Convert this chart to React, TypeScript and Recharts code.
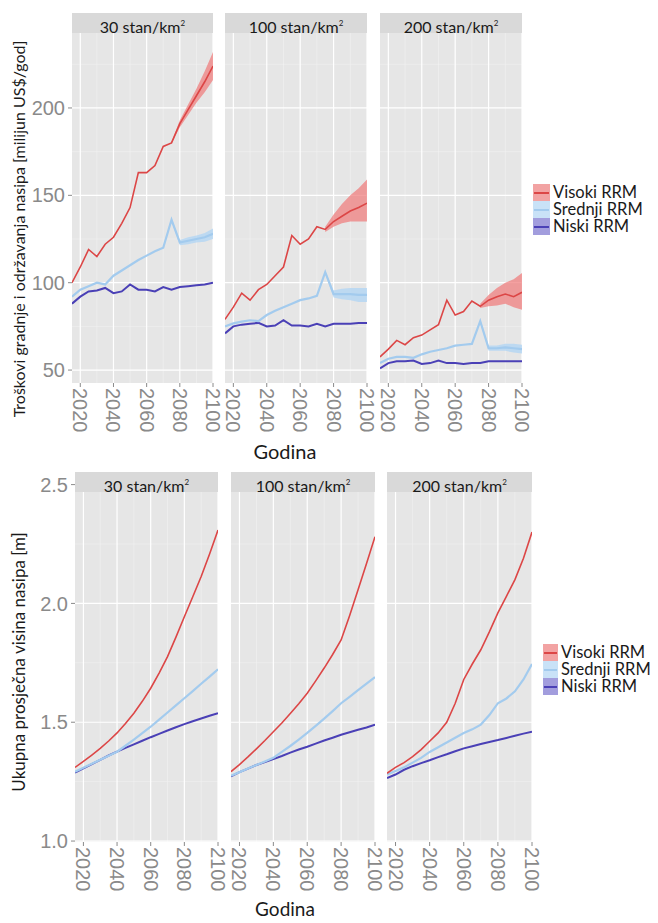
import React from "react";
import { ComposedChart, Line, Area, XAxis, YAxis, CartesianGrid } from "recharts";

const YEARS = [2015, 2020, 2025, 2030, 2035, 2040, 2045, 2050, 2055, 2060, 2065, 2070, 2075, 2080, 2085, 2090, 2095, 2100];
const BAND_YEARS = [2075, 2080, 2085, 2090, 2095, 2100];
const YEAR_TICKS = [2020, 2040, 2060, 2080, 2100];
const YEAR_MINOR = [2030, 2050, 2070, 2090];

const DENSITIES = ["30", "100", "200"];
const SERIES_NAMES = ["Visoki RRM", "Srednji RRM", "Niski RRM"];

// troškovi gradnje i održavanja, milijun US$/god
const COST_VISOKI_30 = [100, 109, 119, 115, 122, 126, 134, 143, 163, 163, 167, 178, 180, 191, 199, 207, 215, 224];
const COST_SREDNJI_30 = [92, 96, 98, 100, 99, 104, 107, 110, 113, 115.5, 118, 120, 136, 123, 124, 125, 126, 128];
const COST_NISKI_30 = [88, 92, 95, 95.5, 97, 94, 95, 99, 96, 96, 95, 97.5, 96, 97.5, 98, 98.5, 99, 100];
const COST_VISOKI_30_LO = [179.5, 189, 196, 203, 209, 216];
const COST_VISOKI_30_HI = [180.5, 193, 202, 211, 221, 232];
const COST_SREDNJI_30_LO = [135, 121.5, 122, 123, 123.5, 125];
const COST_SREDNJI_30_HI = [137, 124.5, 126, 127, 128.5, 131];

const COST_VISOKI_100 = [79, 86, 94, 90, 96, 99, 104, 109, 127, 122, 125, 132, 130.5, 135, 138, 141, 143, 145.5];
const COST_SREDNJI_100 = [75, 76.7, 77.7, 78.5, 78, 81.5, 84, 86, 88, 90, 91, 92.5, 106, 93.5, 93.5, 93.5, 93, 93];
const COST_NISKI_100 = [71, 75, 76, 76.5, 77, 75, 75.5, 78.5, 75.5, 75.5, 75, 76.5, 75, 76.5, 76.5, 76.5, 77, 77];
const COST_VISOKI_100_LO = [129, 132, 134, 135, 135, 135];
const COST_VISOKI_100_HI = [132, 139, 145, 150, 154, 159];
const COST_SREDNJI_100_LO = [105, 91.5, 90.5, 90, 89, 89];
const COST_SREDNJI_100_HI = [107, 95.5, 96.5, 97, 97, 97];

const COST_VISOKI_200 = [57.5, 62, 67, 64.5, 68.5, 70, 73, 76, 90, 81.5, 83.5, 89.5, 86.5, 90, 92, 93.5, 92, 94.5];
const COST_SREDNJI_200 = [54, 56.5, 57.5, 57.5, 57, 59, 60.5, 61.5, 62.5, 64, 64.5, 65, 78, 62.5, 62.5, 63, 62.5, 62];
const COST_NISKI_200 = [51, 54, 55, 55, 55.5, 53.5, 54, 55.5, 54, 54, 53.5, 54, 54, 55, 55, 55, 55, 55];
const COST_VISOKI_200_LO = [85.5, 86.5, 87, 88, 86, 84.5];
const COST_VISOKI_200_HI = [88, 93, 97, 100, 102, 105.5];
const COST_SREDNJI_200_LO = [77, 61, 61, 61, 60, 59.5];
const COST_SREDNJI_200_HI = [79, 64, 64, 65, 65, 64.5];

// ukupna prosječna visina nasipa, m
const HEIGHT_VISOKI_30 = [1.31, 1.335, 1.362, 1.39, 1.421, 1.455, 1.495, 1.538, 1.588, 1.643, 1.707, 1.776, 1.858, 1.944, 2.028, 2.113, 2.208, 2.309];
const HEIGHT_SREDNJI_30 = [1.292, 1.308, 1.325, 1.342, 1.359, 1.376, 1.401, 1.427, 1.454, 1.481, 1.511, 1.541, 1.571, 1.601, 1.631, 1.662, 1.692, 1.723];
const HEIGHT_NISKI_30 = [1.288, 1.306, 1.324, 1.342, 1.36, 1.376, 1.392, 1.407, 1.422, 1.437, 1.451, 1.465, 1.479, 1.492, 1.504, 1.516, 1.527, 1.538];

const HEIGHT_VISOKI_100 = [1.292, 1.322, 1.354, 1.388, 1.423, 1.46, 1.497, 1.537, 1.578, 1.622, 1.674, 1.728, 1.785, 1.846, 1.948, 2.057, 2.168, 2.281];
const HEIGHT_SREDNJI_100 = [1.275, 1.29, 1.305, 1.32, 1.335, 1.35, 1.375, 1.4, 1.427, 1.455, 1.485, 1.515, 1.547, 1.58, 1.607, 1.635, 1.662, 1.69];
const HEIGHT_NISKI_100 = [1.272, 1.29, 1.305, 1.32, 1.332, 1.345, 1.358, 1.372, 1.385, 1.397, 1.41, 1.423, 1.435, 1.447, 1.458, 1.468, 1.478, 1.49];

const HEIGHT_VISOKI_200 = [1.285, 1.31, 1.33, 1.355, 1.385, 1.42, 1.455, 1.5, 1.58, 1.68, 1.745, 1.805, 1.88, 1.96, 2.03, 2.1, 2.19, 2.3];
const HEIGHT_SREDNJI_200 = [1.28, 1.295, 1.31, 1.33, 1.35, 1.375, 1.395, 1.415, 1.435, 1.455, 1.47, 1.49, 1.53, 1.58, 1.6, 1.63, 1.68, 1.745];
const HEIGHT_NISKI_200 = [1.265, 1.28, 1.3, 1.315, 1.328, 1.34, 1.353, 1.365, 1.378, 1.39, 1.399, 1.408, 1.417, 1.425, 1.434, 1.443, 1.452, 1.46];

const COLORS = {
  visoki: { line: "#DC4646", band: "#EF7777", key: "#F2A3A3" },
  srednji: { line: "#A3CBEE", band: "#B3D6F4", key: "#C9E2F7" },
  niski: { line: "#4A40B6", band: "#7C75D2", key: "#A29DDD" },
};

const SANS = "Lato, 'Open Sans', sans-serif";
const TICK_FONT = "'Liberation Sans', Arial, sans-serif";
const TICK_GREY = "#8A8A8A";

type Row = {
  year: number;
  visoki: number;
  srednji: number;
  niski: number;
  visokiBand: [number, number] | null;
  srednjiBand: [number, number] | null;
};

function buildRows(
  visoki: number[],
  srednji: number[],
  niski: number[],
  vLo?: number[],
  vHi?: number[],
  sLo?: number[],
  sHi?: number[],
): Row[] {
  return YEARS.map((year, i) => {
    const b = BAND_YEARS.indexOf(year);
    return {
      year,
      visoki: visoki[i],
      srednji: srednji[i],
      niski: niski[i],
      visokiBand: b >= 0 && vLo && vHi ? [vLo[b], vHi[b]] : null,
      srednjiBand: b >= 0 && sLo && sHi ? [sLo[b], sHi[b]] : null,
    };
  });
}

const COST_ROWS = [
  buildRows(COST_VISOKI_30, COST_SREDNJI_30, COST_NISKI_30, COST_VISOKI_30_LO, COST_VISOKI_30_HI, COST_SREDNJI_30_LO, COST_SREDNJI_30_HI),
  buildRows(COST_VISOKI_100, COST_SREDNJI_100, COST_NISKI_100, COST_VISOKI_100_LO, COST_VISOKI_100_HI, COST_SREDNJI_100_LO, COST_SREDNJI_100_HI),
  buildRows(COST_VISOKI_200, COST_SREDNJI_200, COST_NISKI_200, COST_VISOKI_200_LO, COST_VISOKI_200_HI, COST_SREDNJI_200_LO, COST_SREDNJI_200_HI),
];

const HEIGHT_ROWS = [
  buildRows(HEIGHT_VISOKI_30, HEIGHT_SREDNJI_30, HEIGHT_NISKI_30),
  buildRows(HEIGHT_VISOKI_100, HEIGHT_SREDNJI_100, HEIGHT_NISKI_100),
  buildRows(HEIGHT_VISOKI_200, HEIGHT_SREDNJI_200, HEIGHT_NISKI_200),
];

// rotated year labels under each facet
const YearTick = (props: any) => {
  const { x, y, payload } = props;
  return (
    <text
      x={x}
      y={y}
      transform={`rotate(90 ${x} ${y})`}
      textAnchor="start"
      dominantBaseline="central"
      fill={TICK_GREY}
      fontSize={20}
      fontFamily={TICK_FONT}
    >
      {payload.value}
    </text>
  );
};

type PanelProps = {
  rows: Row[];
  left: number;
  top: number;
  plotW: number;
  plotH: number;
  yDomain: [number, number];
  yTicks: number[];
  yMinor: number[];
  yAxisW: number;
  yFormat?: (v: number) => string;
};

const X_LABEL_H = 60;
const SIDE_PAD = 14;

function Panel({ rows, left, top, plotW, plotH, yDomain, yTicks, yMinor, yAxisW, yFormat }: PanelProps) {
  const showY = yAxisW > 0;
  const padLeft = showY ? 0 : SIDE_PAD;
  return (
    <div style={{ position: "absolute", left: left - yAxisW - padLeft, top }}>
      <ComposedChart
        width={padLeft + yAxisW + plotW + SIDE_PAD}
        height={plotH + X_LABEL_H}
        data={rows}
        margin={{ top: 0, right: SIDE_PAD, bottom: 0, left: padLeft }}
      >
        <CartesianGrid
          fill="#E6E6E6"
          stroke="#F2F2F2"
          strokeWidth={0.6}
          horizontalValues={yMinor}
          verticalValues={YEAR_MINOR}
        />
        <CartesianGrid stroke="#FFFFFF" strokeWidth={1.2} horizontalValues={yTicks} verticalValues={YEAR_TICKS} />
        <XAxis
          type="number"
          dataKey="year"
          domain={[2015, 2100]}
          ticks={YEAR_TICKS}
          interval={0}
          allowDataOverflow
          axisLine={false}
          tickSize={4}
          tickMargin={1}
          tickLine={{ stroke: TICK_GREY }}
          tick={<YearTick />}
          height={X_LABEL_H}
        />
        <YAxis
          type="number"
          domain={yDomain}
          ticks={yTicks}
          interval={0}
          allowDataOverflow
          hide={!showY}
          width={yAxisW}
          axisLine={false}
          tickSize={4}
          tickMargin={3}
          tickLine={{ stroke: TICK_GREY }}
          tick={{ fill: TICK_GREY, fontSize: 20, fontFamily: TICK_FONT }}
          tickFormatter={yFormat}
        />
        <Area
          dataKey="visokiBand"
          stroke="none"
          fill={COLORS.visoki.band}
          fillOpacity={0.7}
          isAnimationActive={false}
          activeDot={false}
        />
        <Area
          dataKey="srednjiBand"
          stroke="none"
          fill={COLORS.srednji.band}
          fillOpacity={0.8}
          isAnimationActive={false}
          activeDot={false}
        />
        <Line dataKey="niski" stroke={COLORS.niski.line} strokeWidth={2} dot={false} isAnimationActive={false} />
        <Line dataKey="srednji" stroke={COLORS.srednji.line} strokeWidth={2.2} dot={false} isAnimationActive={false} />
        <Line dataKey="visoki" stroke={COLORS.visoki.line} strokeWidth={1.6} dot={false} isAnimationActive={false} />
      </ComposedChart>
    </div>
  );
}

function Strip({ left, top, width, density }: { left: number; top: number; width: number; density: string }) {
  return (
    <div
      style={{
        position: "absolute",
        left,
        top,
        width,
        height: 20,
        background: "#D9D9D9",
        color: "#1A1A1A",
        fontFamily: SANS,
        fontSize: 16,
        lineHeight: "20px",
        textAlign: "center",
      }}
    >
      {density} stan/km<span style={{ fontSize: 8, verticalAlign: 7 }}>2</span>
    </div>
  );
}

function Legend({ left, top, textLeft, rowH, keyW }: { left: number; top: number; textLeft: number; rowH: number; keyW: number }) {
  const keys = [COLORS.visoki, COLORS.srednji, COLORS.niski];
  return (
    <>
      {SERIES_NAMES.map((name, i) => (
        <React.Fragment key={name}>
          <div
            style={{
              position: "absolute",
              left,
              top: top + i * rowH,
              width: keyW,
              height: rowH,
              background: keys[i].key,
            }}
          >
            <div
              style={{
                position: "absolute",
                left: 1,
                right: 1,
                top: rowH / 2 - 1,
                height: 2,
                background: keys[i].line,
              }}
            />
          </div>
          <div
            style={{
              position: "absolute",
              left: textLeft,
              top: top + i * rowH,
              height: rowH,
              lineHeight: `${rowH}px`,
              fontFamily: SANS,
              fontSize: 16.5,
              color: "#1A1A1A",
              whiteSpace: "nowrap",
            }}
          >
            {name}
          </div>
        </React.Fragment>
      ))}
    </>
  );
}

const TOP_LEFTS = [72, 225, 380];
const TOP_WIDTHS = [141, 142, 142];
const BOTTOM_LEFTS = [75, 231, 387];
const BOTTOM_WIDTHS = [143, 144, 145];

export default function App() {
  return (
    <div
      style={{
        position: "absolute",
        left: 0,
        top: 0,
        width: 658,
        height: 923,
        background: "#FFFFFF",
        overflow: "hidden",
      }}
    >
      {COST_ROWS.map((rows, i) => (
        <Panel
          key={`cost-${i}`}
          rows={rows}
          left={TOP_LEFTS[i]}
          top={33}
          plotW={TOP_WIDTHS[i]}
          plotH={350}
          yDomain={[42.6, 242.9]}
          yTicks={[50, 100, 150, 200]}
          yMinor={[75, 125, 175, 225]}
          yAxisW={i === 0 ? 72 : 0}
        />
      ))}
      {HEIGHT_ROWS.map((rows, i) => (
        <Panel
          key={`height-${i}`}
          rows={rows}
          left={BOTTOM_LEFTS[i]}
          top={472}
          plotW={BOTTOM_WIDTHS[i]}
          plotH={370}
          yDomain={[0.996, 2.553]}
          yTicks={[1.0, 1.5, 2.0, 2.5]}
          yMinor={[1.25, 1.75, 2.25]}
          yAxisW={i === 0 ? 75 : 0}
          yFormat={(v) => v.toFixed(1)}
        />
      ))}

      {DENSITIES.map((d, i) => (
        <Strip key={`ts-${d}`} left={TOP_LEFTS[i]} top={13} width={TOP_WIDTHS[i]} density={d} />
      ))}
      {DENSITIES.map((d, i) => (
        <Strip key={`bs-${d}`} left={BOTTOM_LEFTS[i]} top={472} width={BOTTOM_WIDTHS[i]} density={d} />
      ))}

      <Legend left={533} top={184} textLeft={553} rowH={17} keyW={17} />
      <Legend left={543} top={644} textLeft={561} rowH={17} keyW={15} />

      <svg width={658} height={923} style={{ position: "absolute", left: 0, top: 0, pointerEvents: "none" }}>
        <text
          transform="translate(18 229) rotate(-90)"
          textAnchor="middle"
          dominantBaseline="central"
          fontFamily={SANS}
          fontSize={16}
          fill="#1A1A1A"
        >
          Troškovi gradnje i održavanja nasipa [milijun US$/god]
        </text>
        <text
          transform="translate(18 662) rotate(-90)"
          textAnchor="middle"
          dominantBaseline="central"
          fontFamily={SANS}
          fontSize={17}
          fill="#1A1A1A"
        >
          Ukupna prosječna visina nasipa [m]
        </text>
        <text x={285} y={459} textAnchor="middle" fontFamily={SANS} fontSize={20} fill="#1A1A1A">
          Godina
        </text>
        <text x={285} y={916} textAnchor="middle" fontFamily={SANS} fontSize={19} fill="#1A1A1A">
          Godina
        </text>
      </svg>
    </div>
  );
}
